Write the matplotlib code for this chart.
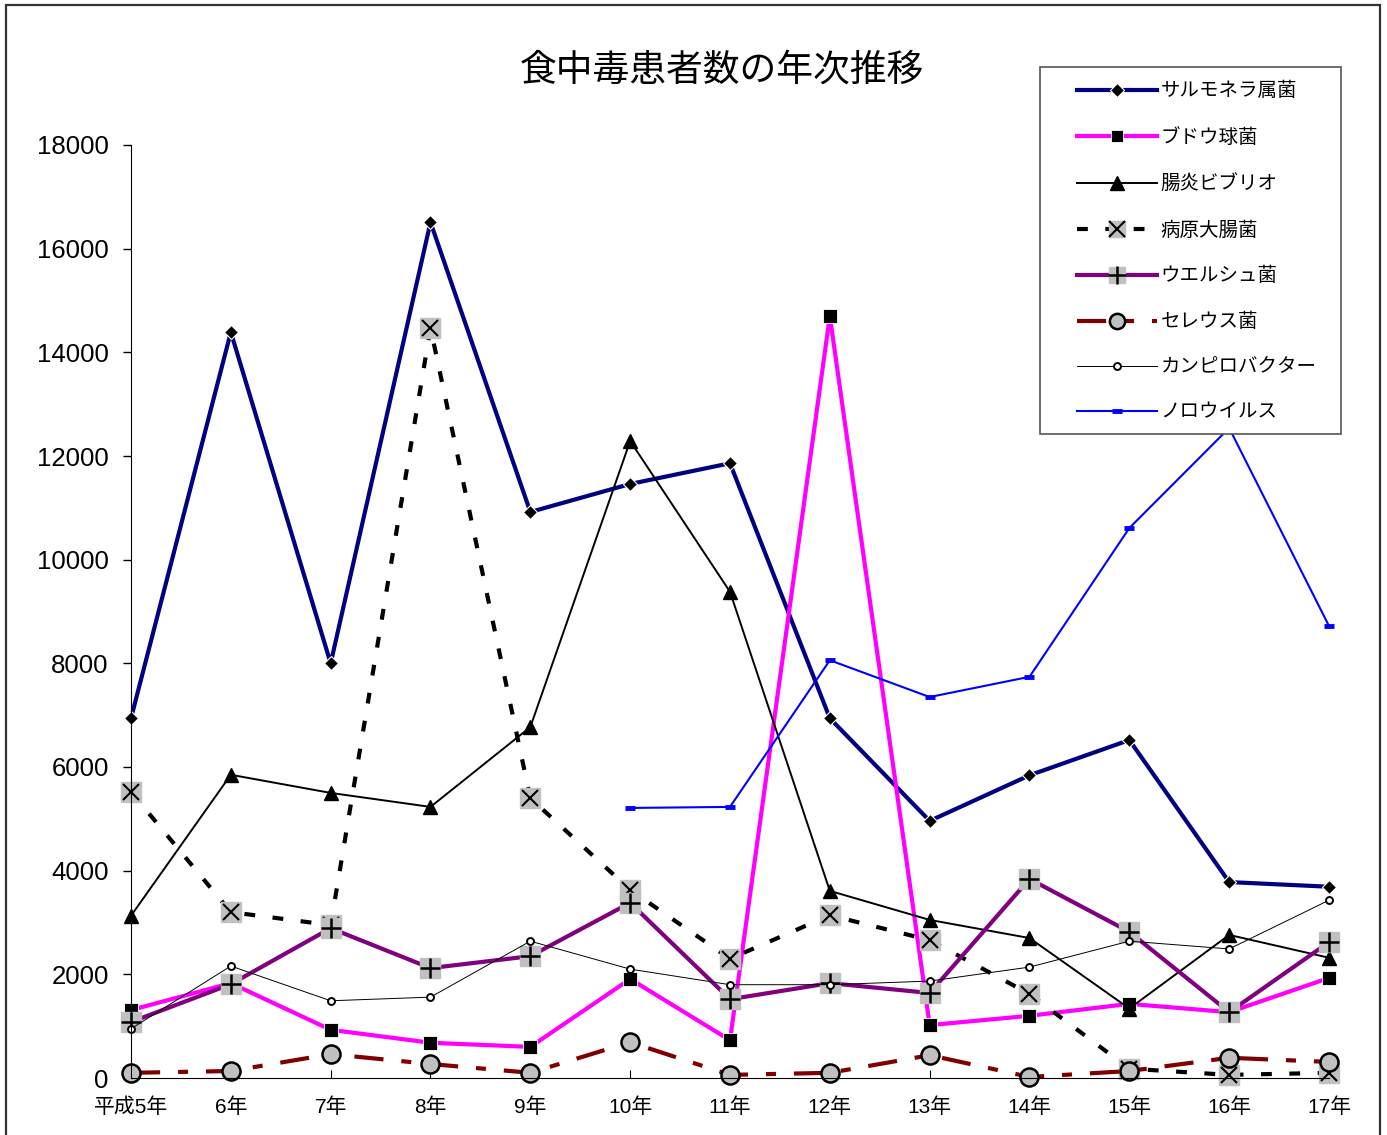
import matplotlib.pyplot as plt
from matplotlib.lines import Line2D
from matplotlib.legend_handler import HandlerTuple
from matplotlib.patches import Rectangle

plt.rcParams['font.family'] = ['Liberation Sans', 'Noto Sans CJK JP']

# 年次（平成5年〜17年）
years = ["平成5年", "6年", "7年", "8年", "9年", "10年", "11年",
         "12年", "13年", "14年", "15年", "16年", "17年"]

salmonella = [6940, 14390, 8000, 16510, 10920, 11460, 11860, 6940, 4960, 5840, 6520, 3780, 3690]
budou = [1310, 1830, 930, 680, 600, 1910, 730, 14700, 1020, 1200, 1430, 1270, 1930]
vibrio = [3130, 5850, 5500, 5230, 6770, 12290, 9380, 3610, 3050, 2700, 1340, 2760, 2320]
ecoli = [5520, 3200, 2950, 14470, 5400, 3630, 2300, 3140, 2660, 1620, 180, 60, 100]
welch = [1080, 1810, 2890, 2120, 2350, 3380, 1520, 1830, 1640, 3840, 2820, 1270, 2620]
cereus = [100, 135, 460, 270, 100, 690, 60, 100, 440, 20, 135, 390, 310]
campylo = [950, 2160, 1490, 1560, 2640, 2100, 1800, 1800, 1870, 2140, 2640, 2490, 3430]
noro_years = years[5:]
noro = [5210, 5230, 8060, 7350, 7740, 10610, 12540, 8720]

labels = ["サルモネラ属菌", "ブドウ球菌", "腸炎ビブリオ", "病原大腸菌",
          "ウエルシュ菌", "セレウス菌", "カンピロバクター", "ノロウイルス"]

gray = "#c0c0c0"
ecoli_dash = (0, (2.6, 4.2))
cereus_dash = (0, (7, 4.3, 2.4, 4.3))

W, H = 1387, 1135
fig = plt.figure(figsize=(W / 100, H / 100), dpi=100)
ax = fig.add_axes([131 / W, 1 - 1078 / H, (1329 - 131) / W, (1078 - 145) / H])

x = list(range(len(years)))
xn = list(range(5, 5 + len(noro)))

ax.plot(x, salmonella, color="#000080", lw=3, marker="D", ms=7, mfc="black", mec="white", mew=0.8, clip_on=False)
ax.plot(x, budou, color="#ff00ff", lw=3, marker="s", ms=10.5, mfc="black", mec="white", mew=0.6, clip_on=False)
ax.plot(x, vibrio, color="black", lw=1.4, marker="^", ms=10, mfc="black", mec="black", clip_on=False)
ax.plot(x, ecoli, color="black", lw=3, ls=ecoli_dash, marker="s", ms=14, mfc=gray, mec=gray, clip_on=False)
ax.plot(x, ecoli, ls="none", marker="x", ms=12, mec="black", mew=1.5, clip_on=False)
ax.plot(x, welch, color="#800080", lw=3, marker="s", ms=14, mfc=gray, mec=gray, clip_on=False)
ax.plot(x, welch, ls="none", marker="+", ms=15, mec="black", mew=1.8, clip_on=False)
ax.plot(x, cereus, color="#800000", lw=3, ls=cereus_dash, marker="o", ms=13, mfc=gray, mec="black", mew=1.8, clip_on=False)
ax.plot(x, campylo, color="black", lw=0.7, marker="o", ms=5, mfc="white", mec="black", mew=1.4, clip_on=False)
ax.plot(xn, noro, color="#0000ff", lw=1.5, marker="_", ms=7, mec="#0000ff", mew=3.5, clip_on=False)

ax.set_xlim(0, 12)
ax.set_ylim(0, 18000)
ax.set_yticks(range(0, 18001, 2000))
ax.set_xticks(x)
ax.set_xticklabels(years)
ax.tick_params(axis="y", direction="out", length=6, width=1, labelsize=18.5, pad=10)
ax.tick_params(axis="x", direction="in", length=6, width=0.8, labelsize=15, pad=14)
for s in ["top", "right"]:
    ax.spines[s].set_visible(False)

# 凡例の枠
fig.patches.append(Rectangle((1040 / W, 1 - 434 / H), (1341 - 1040) / W, (434 - 67) / H,
                             transform=fig.transFigure, fc="white", ec="#555555", lw=1.2, zorder=3))

# 凡例
h = [
    Line2D([], [], color="#000080", lw=3, marker="D", ms=7, mfc="black", mec="white", mew=0.8),
    Line2D([], [], color="#ff00ff", lw=3, marker="s", ms=9, mfc="black", mec="white", mew=0.6),
    Line2D([], [], color="black", lw=1.4, marker="^", ms=10, mfc="black"),
    (Line2D([], [], color="black", lw=3, ls=ecoli_dash, marker="s", ms=12, mfc=gray, mec=gray),
     Line2D([], [], ls="none", marker="x", ms=11, mec="black", mew=1.5)),
    (Line2D([], [], color="#800080", lw=3, marker="s", ms=12, mfc=gray, mec=gray),
     Line2D([], [], ls="none", marker="+", ms=13, mec="black", mew=1.8)),
    Line2D([], [], color="#800000", lw=3, ls=cereus_dash, marker="o", ms=11, mfc=gray, mec="black", mew=1.8),
    Line2D([], [], color="black", lw=0.7, marker="o", ms=5, mfc="white", mec="black", mew=1.4),
    Line2D([], [], color="#0000ff", lw=1.5, marker="_", ms=7, mec="#0000ff", mew=3.5),
]
leg = fig.legend(h, labels, loc="upper left", bbox_to_anchor=(1077 / W, 1 - 82 / H),
                 fontsize=14, numpoints=1, handlelength=4.1, handletextpad=0.2,
                 labelspacing=1.42, borderpad=0, borderaxespad=0, frameon=False,
                 handler_map={tuple: HandlerTuple(ndivide=1)})
leg.set_zorder(10)

fig.text(722 / W, 1 - 71 / H, "食中毒患者数の年次推移", ha="center", va="center", fontsize=26.5)

fig.patches.append(Rectangle((6 / W, -0.01), (1380 - 6) / W, 1.01 - 5 / H,
                             transform=fig.transFigure, fill=False, ec="#333333", lw=1.6))

fig.savefig("out.png", dpi=100)
